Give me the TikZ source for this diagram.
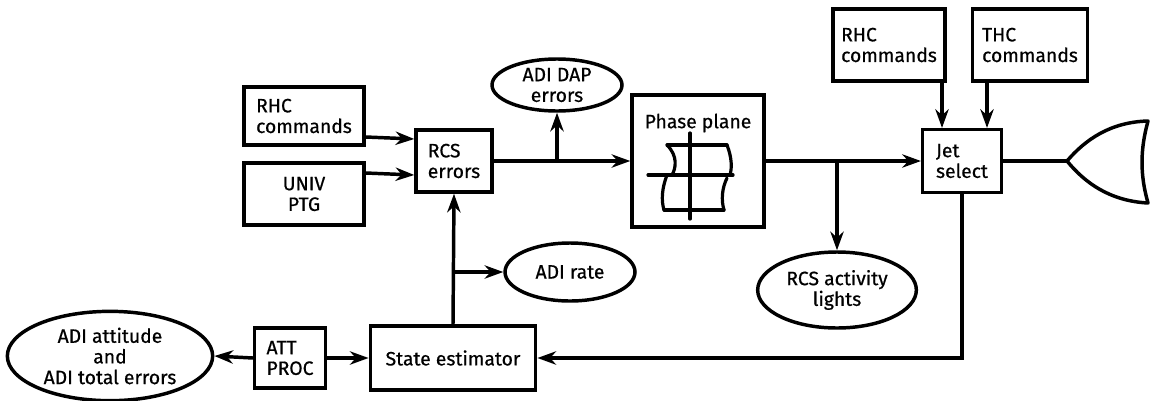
\documentclass[tikz,border=0pt]{standalone}
\usepackage{fontspec}
\setmainfont{Fira Sans}[FakeBold=0.6]
\usetikzlibrary{arrows.meta,shapes.geometric}
\newcommand\diafont{\fontsize{14.5}{15.5}\selectfont}
\begin{document}
\begin{tikzpicture}[x=0.75pt,y=-0.75pt,line width=2.6pt,
  box/.style={draw,rectangle,line width=2.6pt,inner sep=2pt,font=\diafont},
  oval/.style={draw,ellipse,line width=2.6pt,inner sep=0pt,font=\diafont,align=center},
  arr/.style={line width=2.6pt,-{Stealth[length=14pt,width=10pt,inset=4.5pt]}},
  conn/.style={line width=2.6pt},
  sketch/.style={line width=2.4pt,line cap=round}]
\useasboundingbox (0,0) rectangle (1151,400);
% boxes
\node[box,align=left,minimum width=90pt,minimum height=43.5pt] (rhcL) at (304,116) {RHC\\commands};
\node[box,align=center,minimum width=90pt,minimum height=46.5pt] (univ) at (304,194) {UNIV\\PTG};
\node[box,align=left,minimum width=57pt,minimum height=46.5pt] (rcs) at (454,161) {RCS\\errors};
\node[oval,minimum width=97.5pt,minimum height=39pt] (dap) at (557,85) {ADI DAP\\errors};
\node[box,minimum width=99pt,minimum height=99pt] (phase) at (698,161) {};
\node[font=\diafont,inner sep=0pt] (phtxt) at (698,123) {Phase plane};
\node[box,align=left,minimum width=84pt,minimum height=54pt] (rhcR) at (889,45) {RHC\\commands};
\node[box,align=left,minimum width=86pt,minimum height=54pt] (thc) at (1030,45) {THC\\commands};
\node[box,align=left,minimum width=59pt,minimum height=47pt] (jet) at (962,161) {Jet\\select};
\node[oval,minimum width=119pt,minimum height=57pt] (lights) at (837,290) {RCS activity\\lights};
\node[oval,minimum width=97.5pt,minimum height=43.5pt] (rate) at (570,272) {ADI rate};
\node[box,minimum width=124pt,minimum height=48pt] (state) at (453,358) {State estimator};
\node[box,align=left,minimum width=53pt,minimum height=45pt] (att) at (290,358) {ATT\\PROC};
\node[oval,minimum width=154pt,minimum height=67pt] (attitude) at (110,356) {ADI attitude\\and\\ADI total errors};
% phase plane sketch
\draw[sketch] (648,175) -- (733,175);
\draw[sketch] (690,133) -- (690,219);
\draw[sketch] (667,145) -- (727,145);
\draw[sketch] (664,210) -- (724,210);
\draw[sketch] (667,145) .. controls (678,156) and (676,168) .. (672,175);
\draw[sketch] (667,175) .. controls (662,188) and (661,200) .. (664,210);
\draw[sketch] (727,145) .. controls (732,158) and (732,168) .. (730,175);
\draw[sketch] (727,178) .. controls (722,188) and (721,200) .. (724,210);
% output display shape
\coordinate (dtip) at (1067,161);
\coordinate (dtop) at (1148,121);
\coordinate (dbot) at (1148,203);
\draw[line width=2.6pt,line join=round] (dtip) .. controls (1085,140) and (1110,122) .. (dtop)
  .. controls (1140,150) and (1140,175) .. (dbot)
  .. controls (1110,201) and (1085,183) .. (dtip);
% connectors
\draw[arr] (rhcL.east |- 0,137) -- (rcs.west |- 0,139);
\draw[arr] (univ.east |- 0,173) -- (rcs.west |- 0,175);
\draw[arr] (rcs.east) -- (phase.west);
\coordinate (bdap) at (dap.south |- rcs.east);
\draw[arr] (bdap) -- (dap.south);
\draw[arr] (phase.east) -- (jet.west);
\coordinate (blights) at (lights.north |- phase.east);
\draw[arr] (blights) -- (lights.north);
\draw[arr] (rhcR.south -| 942,0) -- (jet.north -| 942,0);
\draw[arr] (thc.south -| 987,0) -- (jet.north -| 987,0);
\draw[conn] (jet.east) -- (dtip);
\draw[arr] (state.north) -- (rcs.south);
\coordinate (brate) at (state.north |- rate.west);
\draw[arr] (brate) -- (rate.west);
\draw[arr] (att.east) -- (state.west);
\draw[arr] (att.west) -- (attitude.east);
\draw[arr] (jet.south) |- (state.east);
\end{tikzpicture}
\end{document}
